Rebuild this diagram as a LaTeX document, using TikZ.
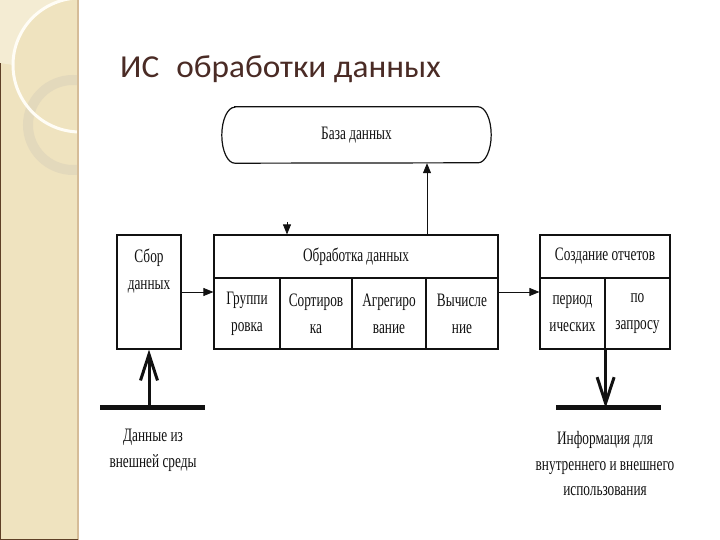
\documentclass[tikz,border=0pt]{standalone}
\usepackage{fontspec}
\usepackage{tikz}
\usetikzlibrary{positioning,arrows.meta,calc}
\newfontfamily\diagfont[FakeStretch=0.7]{Liberation Serif}
\newfontfamily\titlefont[FakeStretch=1.04]{Carlito}
\definecolor{ink}{HTML}{111111}
\definecolor{titlec}{HTML}{4A2B25}
\definecolor{strip}{HTML}{EFE3BF}
\definecolor{striplt}{HTML}{F4ECD3}
\definecolor{stripdk}{HTML}{D5BC98}
\definecolor{ring}{HTML}{E3D9BC}
\definecolor{arcw}{HTML}{FFFDF6}
\definecolor{edge}{HTML}{5E3F26}
\tikzset{
  cell/.style={draw=ink, line width=1.2pt, inner sep=0pt, align=center, text=ink,
    font=\diagfont\fontsize{19}{27}\selectfont},
  txt/.style={inner sep=0pt, align=center, text=ink, font=\diagfont\fontsize{19}{25.5}\selectfont},
  flow/.style={-{Triangle[length=10pt,width=8pt]}, line width=0.8pt, color=ink},
  bigflow/.style={-{Straight Barb[length=26pt,width=17pt]}, line width=3pt, color=ink},
  bar/.style={line width=5pt, color=ink},
  dbline/.style={draw=ink, line width=1.2pt},
}

\begin{document}
\begin{tikzpicture}[x=1pt,y=1pt]
  \useasboundingbox (0,0) rectangle (720,540);
  % side strip
  \begin{scope}
    \clip (0,0) rectangle (78,540);
    \fill[strip] (0,0) rectangle (78,540);
    \fill[striplt] (0,540) -- (64,540) arc[start angle=104, end angle=180, radius=67] -- (0,477) -- cycle;
    \draw[ring, line width=10pt] (73,415) circle[radius=45];
    \draw[arcw, line width=3pt] (80,475) circle[radius=67];
  \end{scope}
  \draw[stripdk, line width=1.5pt] (78,0) -- (78,540);
  \draw[edge, line width=1.5pt] (0.7,0) -- (0.7,477);
  \draw[edge, line width=1.2pt] (0,0.6) -- (78,0.6);
  % title
  \node[anchor=base west, inner sep=0pt, font=\titlefont\fontsize{32}{32}\selectfont, text=titlec]
    (title) at (120,462) {ИС\hspace{0.3em} обработки данных};
  % database
  \node[txt, minimum width=269pt, minimum height=56pt] (db) at (356.5,405) {База данных};
  \draw[dbline] ([xshift=13pt]db.north west) -- ([xshift=-13pt]db.north east)
    arc[start angle=90, end angle=-90, x radius=13, y radius=28]
    -- ([xshift=13pt]db.south west)
    arc[start angle=270, end angle=90, x radius=13, y radius=28] -- cycle;
  % collection
  \node[cell, minimum width=64pt, minimum height=114pt] (sbor) at (149,248) {};
  \node[txt, font=\diagfont\fontsize{19}{27}\selectfont] (sbortx) at (149,268.5) {Сбор\\данных};
  % processing
  \node[cell, minimum width=284pt, minimum height=43pt] (obr) at (356,283.5) {Обработка данных};
  \foreach \nm/\xa/\xb/\la/\lb in {grp/214/280/Группи/ровка, srt/280/352/Сортиров/ка,
                                   agr/352/426/Агрегиро/вание, vch/426/498/Вычисле/ние} {
    \node[cell, minimum width={(\xb-\xa)*1pt}, minimum height=71pt] (\nm) at ({(\xa+\xb)/2},226.5) {\la\\\lb};
  }
  % reports
  \node[cell, minimum width=130pt, minimum height=43pt] (sozd) at (605,283.5) {Создание отчетов};
  \node[cell, minimum width=65pt, minimum height=71pt] (per) at (572.5,226.5) {период\\ических};
  \node[cell, minimum width=65pt, minimum height=71pt] (zap) at (637.5,226.5) {по\\запросу};
  % flows
  \draw[flow] (sbor.east) -- (grp.west |- sbor.east);
  \draw[flow] (vch.east |- sbor.east) -- (per.west |- sbor.east);
  \draw[flow] ([xshift=71pt]obr.north) -- ([xshift=71pt]obr.north |- db.south);
  \coordinate (dbin) at (287,318);
  \draw[flow] (dbin) -- (dbin |- obr.north);
  % outside world
  \coordinate (inL) at (100,132);
  \coordinate (inR) at (205,132);
  \draw[bar] (inL) -- (inR);
  \draw[bigflow] (sbor.south |- inL) -- (sbor.south);
  \coordinate (outL) at (556,132);
  \coordinate (outR) at (661,132);
  \draw[bar] (outL) -- (outR);
  \draw[bigflow] (per.south east) -- (per.south east |- outL);
  \node[txt] (srcl) at (153,89.5) {Данные из\\внешней среды};
  \node[txt] (usel) at (605,76) {Информация для\\внутреннего и внешнего\\использования};
\end{tikzpicture}
\end{document}
